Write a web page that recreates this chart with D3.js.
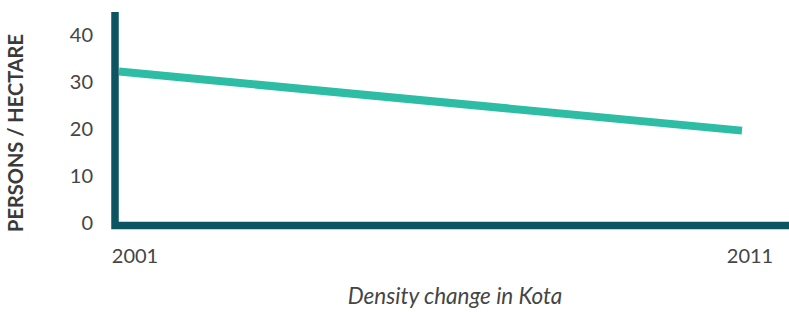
<!DOCTYPE html>
<html lang="en">
<head>
<meta charset="utf-8">
<title>Density change in Kota</title>
<script src="https://d3js.org/d3.v7.min.js"></script>
<style>
  body { margin: 0; padding: 0; background: #fff; font-family: 'Lato', sans-serif; }
  .tick-label { font-size: 20px; fill: #454545; }
</style>
</head>
<body>
<div id="chart"></div>
<script>
// data
var years = [2001, 2011];
var density = [32.2, 19.6];
var yTicks = [0, 10, 20, 30, 40];
var xTickLabels = ["2001", "2011"];

var width = 789, height = 312;

var svg = d3.select("#chart").append("svg")
    .attr("width", width)
    .attr("height", height);

// scales
var x = d3.scaleLinear().domain([2001, 2011]).range([119, 742]);
var xLabel = d3.scaleLinear().domain([2001, 2011]).range([135, 750]);
var y = d3.scaleLinear().domain([0, 40]).range([222.5, 35]);

// y tick labels
svg.append("g")
  .selectAll("text")
  .data(yTicks)
  .enter().append("text")
    .attr("class", "tick-label")
    .attr("x", 93)
    .attr("y", function(d) { return y(d); })
    .attr("dy", "0.35em")
    .attr("text-anchor", "end")
    .text(function(d) { return d; });

// x tick labels
svg.append("g")
  .selectAll("text")
  .data(years)
  .enter().append("text")
    .attr("class", "tick-label")
    .attr("x", function(d) { return xLabel(d); })
    .attr("y", 263)
    .attr("text-anchor", "middle")
    .text(function(d, i) { return xTickLabels[i]; });

// the line
var line = d3.line()
    .x(function(d, i) { return x(years[i]); })
    .y(function(d) { return y(d); });

svg.append("path")
    .datum(density)
    .attr("d", line)
    .attr("fill", "none")
    .attr("stroke", "#2dbca4")
    .attr("stroke-width", 8);

// axes lines
svg.append("path")
    .attr("d", "M115,12 V225.5 H789")
    .attr("fill", "none")
    .attr("stroke", "#0c5461")
    .attr("stroke-width", 7.5);

// y title
svg.append("text")
    .attr("transform", "translate(23,133) rotate(-90)")
    .attr("text-anchor", "middle")
    .attr("font-size", "20px")
    .attr("font-weight", "bold")
    .attr("fill", "#3a3a3a")
    .text("PERSONS / HECTARE");

// x title
svg.append("text")
    .attr("x", 455)
    .attr("y", 304)
    .attr("text-anchor", "middle")
    .attr("font-size", "22.5px")
    .attr("font-style", "italic")
    .attr("fill", "#454545")
    .text("Density change in Kota");
</script>
</body>
</html>
